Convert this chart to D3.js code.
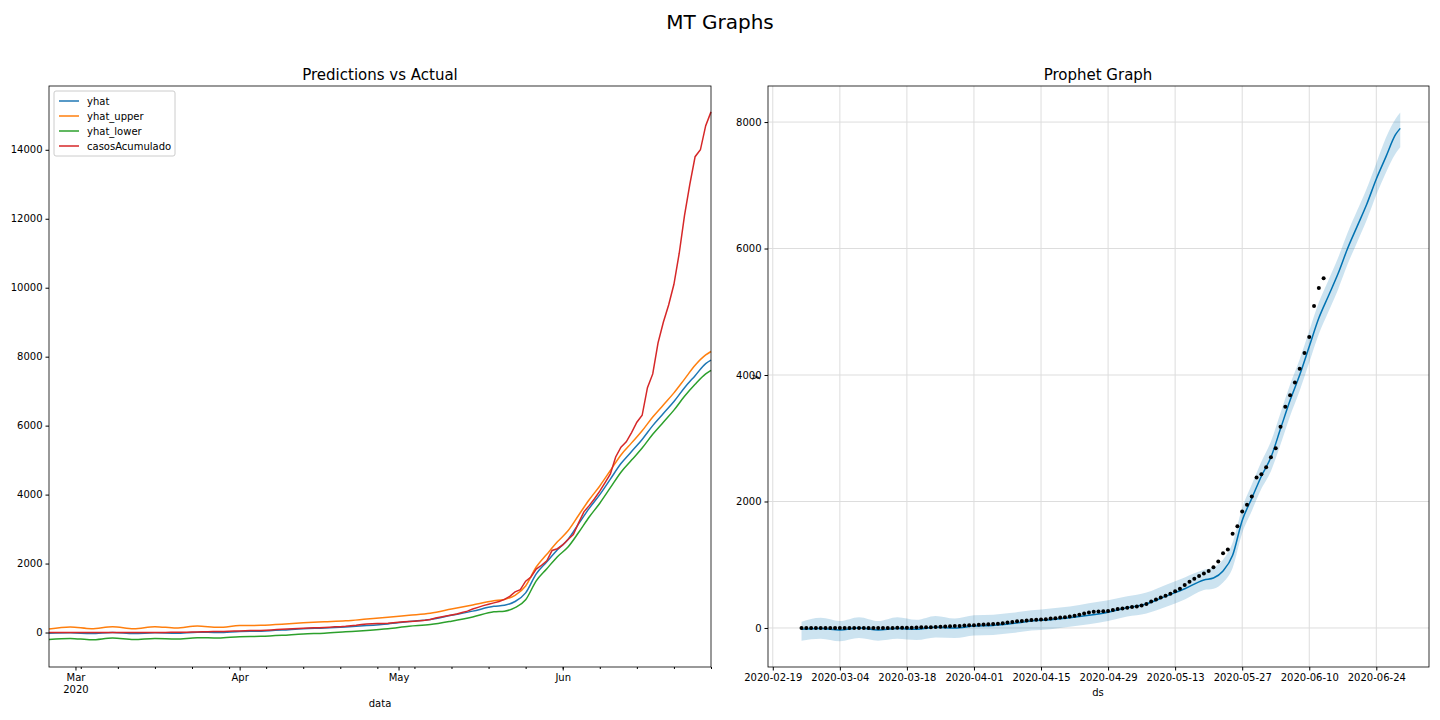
<!DOCTYPE html>
<html><head><meta charset="utf-8">
<script src="https://cdn.jsdelivr.net/npm/d3@7"></script>
<style>body{margin:0;background:#fff}text{font-family:"DejaVu Sans",sans-serif}</style>
</head><body><svg id="c" width="1440" height="720"></svg>
<script>
// day 0 = 2020-02-25
const startDate = "2020-02-25";
const actualDaily = [0,0,0,0,0,0,0,0,0,0,0,0,0,0,0,0,0,1,1,1,
 2,2,3,5,7,10,11,13,15,19,23,28,30,32,38,42,
 45,50,55,60,62,68,75,85,95,105,110,118,125,130,135,140,148,155,165,170,180,195,210,230,245,255,260,265,270,285,
 300,310,320,330,340,355,380,420,450,480,510,540,580,620,680,730,780,820,860,900,960,1050,1180,1240,1490,1610,1840,1950,2080,2380,2430,
 2540,2700,2840,3180,3500,3680,3880,4100,4350,4600,5090,5375,5530,5800,6100,6300,7100,7500,8400,9000,9500,10100,11000,12100,13000,13800,14000,14700,15100];
const prophetActualDays = 110; // dots shown on Prophet graph (through 2020-06-13)
const yhatDays = [0,4,8,12,16,20,24,28,32,36,40,44,48,52,56,60,64,68,72,76,80,84,86,88,90,92,94,96,98,100,102,104,106,108,110,112,114,116,118,120,122,124,125];
const yhatVals = [-20,-10,-30,0,-30,-10,-20,10,0,30,40,70,110,130,160,200,250,320,380,500,620,760,790,900,1150,1700,2050,2400,2700,3150,3600,4000,4450,4900,5250,5600,6000,6350,6700,7100,7450,7800,7900];
const upperVals = [100,160,110,170,110,170,130,190,150,200,210,240,280,310,340,390,440,500,560,680,800,920,960,1080,1350,1900,2270,2630,2950,3400,3850,4250,4700,5150,5500,5850,6250,6600,6950,7350,7750,8050,8150];
const lowerVals = [-200,-170,-210,-160,-200,-170,-190,-150,-160,-120,-110,-80,-40,-20,20,60,110,180,230,330,450,600,620,720,950,1500,1850,2200,2480,2900,3350,3750,4200,4650,5000,5350,5750,6100,6450,6850,7200,7500,7600];
const leftYTicks = [0,2000,4000,6000,8000,10000,12000,14000];
const rightYTicks = [0,2000,4000,6000,8000];
const legendLabels = ["yhat","yhat_upper","yhat_lower","casosAcumulado"];
const colors = ["#1f77b4","#ff7f0e","#2ca02c","#d62728"];

const svg = d3.select("#c");
const p = d3.timeParse("%Y-%m-%d");
const d0 = p(startDate);
const dayToDate = d => d3.timeDay.offset(d0, d);
const actual = actualDaily.map((v,i)=>({d:dayToDate(i),v}));
const yh = yhatDays.map((d,i)=>({d:dayToDate(d),v:yhatVals[i],u:upperVals[i],l:lowerVals[i]}));

svg.append("text").attr("x",720).attr("y",29).attr("text-anchor","middle").attr("font-size",20).text("MT Graphs");

// LEFT
const L={x0:49,x1:711,y0:86,y1:667};
const xl=d3.scaleTime().domain([d0,dayToDate(125)]).range([L.x0,L.x1]);
const yl=d3.scaleLinear().domain([-1000,15850]).range([L.y1,L.y0]);
const gl=svg.append("g");
const ln=(acc)=>d3.line().x(d=>xl(d.d)).y(d=>yl(acc(d))).curve(d3.curveMonotoneX);
gl.append("path").datum(yh).attr("d",ln(d=>d.v)).attr("fill","none").attr("stroke",colors[0]).attr("stroke-width",1.5);
gl.append("path").datum(yh).attr("d",ln(d=>d.u)).attr("fill","none").attr("stroke",colors[1]).attr("stroke-width",1.5);
gl.append("path").datum(yh).attr("d",ln(d=>d.l)).attr("fill","none").attr("stroke",colors[2]).attr("stroke-width",1.5);
gl.append("path").datum(actual).attr("d",d3.line().x(d=>xl(d.d)).y(d=>yl(d.v))).attr("fill","none").attr("stroke",colors[3]).attr("stroke-width",1.5);
gl.append("rect").attr("x",L.x0).attr("y",L.y0).attr("width",L.x1-L.x0).attr("height",L.y1-L.y0).attr("fill","none").attr("stroke","#000").attr("stroke-width",0.8);
const ayl=gl.append("g").attr("transform",`translate(${L.x0},0)`).call(d3.axisLeft(yl).tickValues(leftYTicks).tickSize(3.5).tickFormat(d3.format("d")));
const axl=gl.append("g").attr("transform",`translate(0,${L.y1})`).call(d3.axisBottom(xl).tickValues(d3.timeMonth.range(p("2020-03-01"),p("2020-07-01"))).tickSize(3.5).tickFormat(d3.timeFormat("%b")));
axl.selectAll(".tick").filter((d,i)=>i===0).select("text").append("tspan").attr("x",0).attr("dy","1.2em").text("2020");
gl.append("g").attr("transform",`translate(0,${L.y1})`).call(d3.axisBottom(xl).tickValues(d3.timeMonday.range(d0,dayToDate(126))).tickSize(2).tickFormat(""));
gl.append("text").attr("x",380).attr("y",707).attr("text-anchor","middle").attr("font-size",10).text("data");
gl.append("text").attr("x",380).attr("y",80).attr("text-anchor","middle").attr("font-size",15).text("Predictions vs Actual");
const lg=gl.append("g").attr("transform","translate(54,91)");
lg.append("rect").attr("width",121).attr("height",65).attr("fill","#fff").attr("stroke","#ccc").attr("rx",2);
legendLabels.forEach((t,i)=>{const y=10+i*15;
 lg.append("line").attr("x1",5).attr("x2",25).attr("y1",y).attr("y2",y).attr("stroke",colors[i]).attr("stroke-width",1.5);
 lg.append("text").attr("x",33).attr("y",y+3.5).attr("font-size",10).text(t);});

// RIGHT
const R={x0:768,x1:1429,y0:86,y1:667};
const xr=d3.scaleTime().domain([p("2020-02-18"),p("2020-07-05")]).range([R.x0,R.x1]);
const yr=d3.scaleLinear().domain([-617,8570]).range([R.y1,R.y0]);
const gr=svg.append("g");
const rTicks=d3.range(0,10).map(i=>d3.timeDay.offset(p("2020-02-19"),14*i));
rTicks.forEach(t=>gr.append("line").attr("x1",xr(t)).attr("x2",xr(t)).attr("y1",R.y0).attr("y2",R.y1).attr("stroke","#ddd"));
rightYTicks.forEach(t=>gr.append("line").attr("x1",R.x0).attr("x2",R.x1).attr("y1",yr(t)).attr("y2",yr(t)).attr("stroke","#ddd"));
gr.append("path").datum(yh).attr("d",d3.area().x(d=>xr(d.d)).y0(d=>yr(d.l)).y1(d=>yr(d.u)).curve(d3.curveMonotoneX)).attr("fill","#0072B2").attr("opacity",0.2);
gr.append("path").datum(yh).attr("d",d3.line().x(d=>xr(d.d)).y(d=>yr(d.v)).curve(d3.curveMonotoneX)).attr("fill","none").attr("stroke","#0072B2").attr("stroke-width",1.5);
gr.selectAll("circle").data(actual.slice(0,prophetActualDays)).join("circle").attr("cx",d=>xr(d.d)).attr("cy",d=>yr(d.v)).attr("r",2).attr("fill","#000");
gr.append("rect").attr("x",R.x0).attr("y",R.y0).attr("width",R.x1-R.x0).attr("height",R.y1-R.y0).attr("fill","none").attr("stroke","#000").attr("stroke-width",0.8);
gr.append("g").attr("transform",`translate(${R.x0},0)`).call(d3.axisLeft(yr).tickValues(rightYTicks).tickSize(3.5).tickFormat(d3.format("d")));
gr.append("g").attr("transform",`translate(0,${R.y1})`).call(d3.axisBottom(xr).tickValues(rTicks).tickSize(3.5).tickFormat(d3.timeFormat("%Y-%m-%d")));
gr.append("text").attr("x",1098).attr("y",696).attr("text-anchor","middle").attr("font-size",10).text("ds");
gr.append("text").attr("transform","translate(758,377) rotate(-90)").attr("text-anchor","middle").attr("font-size",10).text("y");
gr.append("text").attr("x",1098).attr("y",80).attr("text-anchor","middle").attr("font-size",15).text("Prophet Graph");
svg.selectAll(".tick text").attr("font-size",10).attr("font-family","DejaVu Sans").attr("fill","#000");
svg.selectAll(".domain").remove();
</script></body></html>
